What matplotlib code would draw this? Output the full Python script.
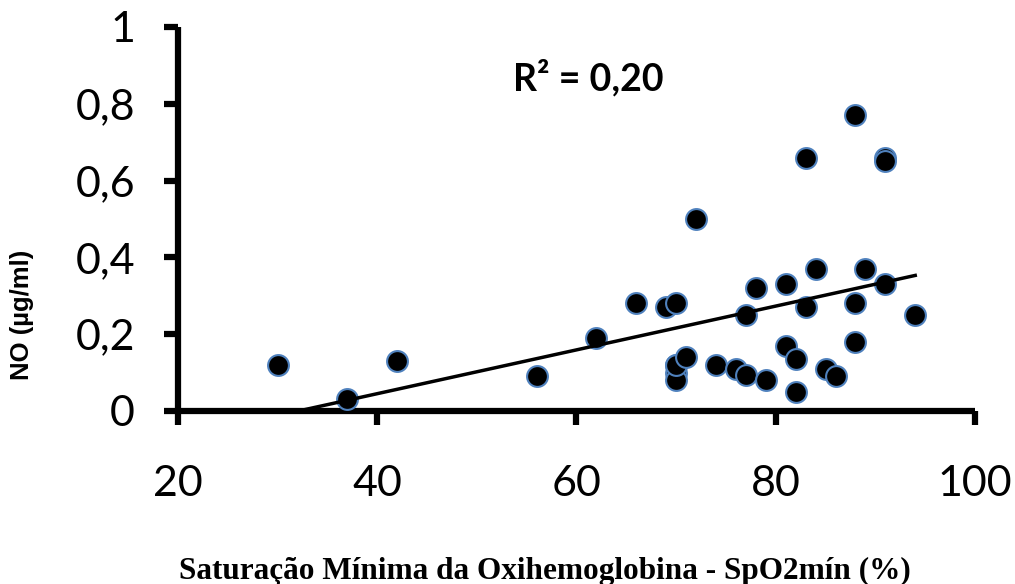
import numpy as np
import matplotlib
matplotlib.use("Agg")
import matplotlib.pyplot as plt

# SpO2 min (%) and NO (ug/ml)
spo2 = [30, 37, 42, 56, 62, 66, 69, 70, 70, 70, 70, 70, 71, 72, 74, 76, 77, 77,
        78, 79, 81, 81, 82, 82, 83, 83, 84, 85, 86, 88, 88, 88, 89, 91, 91, 91, 94]
no = [0.12, 0.03, 0.13, 0.09, 0.19, 0.28, 0.27, 0.28, 0.12, 0.10, 0.08, 0.12, 0.14, 0.50, 0.12, 0.11, 0.25, 0.095,
      0.32, 0.08, 0.33, 0.17, 0.135, 0.05, 0.27, 0.66, 0.37, 0.11, 0.09, 0.28, 0.18, 0.77, 0.37, 0.33, 0.66, 0.65, 0.25]

x_ticks = [20, 40, 60, 80, 100]
y_ticks = [0, 0.2, 0.4, 0.6, 0.8, 1]
y_tick_labels = ["0", "0,2", "0,4", "0,6", "0,8", "1"]
r2_text = "R² = 0,20"

fig = plt.figure(figsize=(10.15, 5.84), dpi=100)
ax = fig.add_axes([178 / 1015, 1 - 411 / 584, (975 - 178) / 1015, (411 - 27) / 584])

ax.scatter(spo2, no, s=15 ** 2, color="black", edgecolors="#4f81bd", linewidths=1.5, zorder=3)

# linear trendline
k, b = np.polyfit(spo2, no, 1)
xs = np.array([min(spo2), max(spo2)])
ax.plot(xs, k * xs + b, color="black", lw=2.5, zorder=4)

ax.set_xlim(20, 100)
ax.set_ylim(0, 1)
ax.set_xticks(x_ticks)
ax.set_yticks(y_ticks)
ax.set_yticklabels(y_tick_labels)

for s in ["top", "right"]:
    ax.spines[s].set_visible(False)
for s in ["left", "bottom"]:
    ax.spines[s].set_linewidth(4.5)
    ax.spines[s].set_capstyle("butt")

ax.tick_params(axis="both", direction="out", length=10, width=4.5, labelsize=31)
ax.tick_params(axis="y", pad=21)
ax.tick_params(axis="x", pad=29)
for lab in ax.get_xticklabels() + ax.get_yticklabels():
    lab.set_fontfamily("Lato")

ax.text(588 / 1015, 1 - 78 / 584, r2_text, transform=fig.transFigure, ha="center", va="center",
        fontsize=27, fontweight="bold", family="Lato")

fig.text(545 / 1015, 1 - 571 / 584, "Saturação Mínima da Oxihemoglobina - SpO2mín (%)",
         ha="center", va="center", fontsize=22.5, fontweight="bold", family="Liberation Serif")
fig.text(22 / 1015, 1 - 315 / 584, "NO (µg/ml)", rotation=90, ha="center", va="center",
         fontsize=18.5, fontweight="bold", family="Liberation Sans")

fig.savefig("out.png", dpi=100)
